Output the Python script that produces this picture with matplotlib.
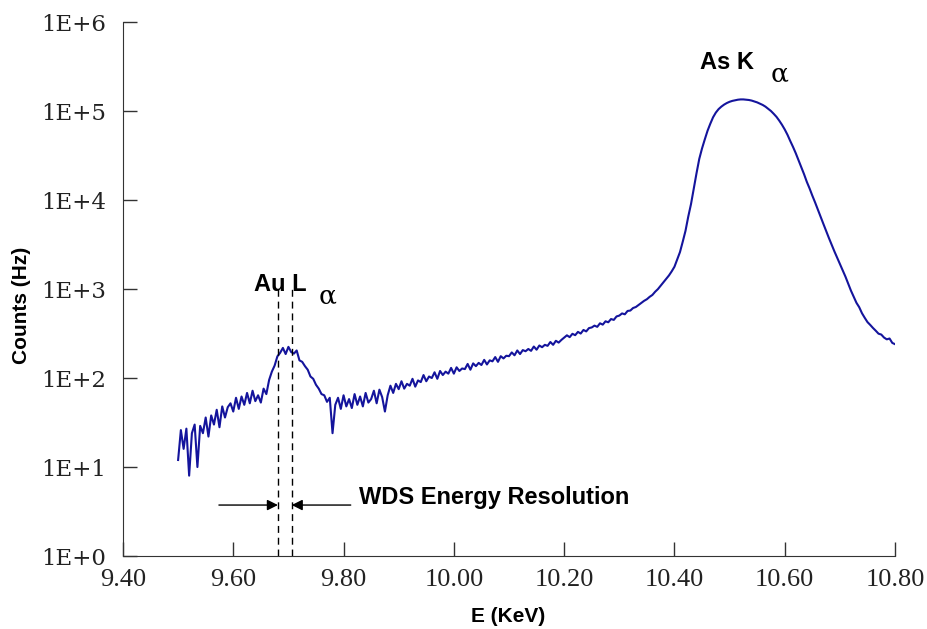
import matplotlib
matplotlib.use('Agg')
import matplotlib.pyplot as plt
from matplotlib.ticker import FixedLocator, FuncFormatter, NullLocator
import numpy as np

# spectrum, one value every 0.005 keV from 9.50 to 10.80
e_start, e_stop = 9.50, 10.80
counts = [
    12, 26, 16, 27, 8, 24, 30, 10, 29, 24,
    36, 22, 38, 30, 44, 28, 48, 36, 47, 52,
    42, 60, 45, 62, 50, 68, 52, 72, 55, 64,
    53, 76, 66, 95, 118, 138, 175, 192, 218, 186,
    224, 196, 188, 204, 158, 152, 136, 124, 104, 98,
    84, 76, 66, 64, 54, 60, 24, 50, 60, 45,
    64, 48, 58, 46, 66, 50, 62, 48, 68, 53,
    58, 72, 52, 74, 61, 42, 64, 82, 68, 86,
    75, 92, 76, 86, 82, 98, 80, 94, 90, 108,
    92, 104, 100, 116, 98, 120, 108, 118, 112, 130,
    112, 132, 120, 128, 126, 144, 124, 146, 136, 148,
    140, 160, 142, 158, 154, 172, 152, 176, 166, 178,
    176, 194, 180, 204, 186, 206, 200, 212, 202, 226,
    208, 232, 222, 236, 230, 254, 236, 262, 250, 268,
    285, 302, 288, 314, 303, 330, 316, 347, 334, 364,
    370, 388, 376, 412, 398, 434, 423, 460, 450, 492,
    503, 532, 520, 567, 573, 612, 628, 662, 698, 737,
    768, 817, 858, 932, 998, 1090, 1190, 1300, 1420, 1580,
    1780, 2150, 2600, 3400, 4500, 6500, 9000, 13500, 20000, 29000,
    38000, 48000, 60000, 72000, 85000, 96000, 105000, 112000, 118000, 123000,
    127000, 130000, 132000, 134000, 135000, 135000, 134000, 133000, 131000, 128000,
    125000, 121000, 117000, 112000, 106000, 100000, 93000, 86000, 78000, 70000,
    62000, 54000, 46000, 39500, 33500, 28000, 23500, 19500, 16000, 13500,
    11200, 9400, 7800, 6500, 5400, 4500, 3750, 3150, 2650, 2250,
    1900, 1620, 1380, 1150, 960, 820, 700, 625, 535, 475,
    425, 395, 365, 340, 315, 308, 285, 272, 278, 248,
    240,
]
energy = np.linspace(e_start, e_stop, len(counts))

x_ticks = [9.40, 9.60, 9.80, 10.00, 10.20, 10.40, 10.60, 10.80]
y_ticks = [1e0, 1e1, 1e2, 1e3, 1e4, 1e5, 1e6]
resolution_edges = [9.681, 9.706]

bold = ['Liberation Sans Narrow', 'Liberation Sans']

fig = plt.figure(figsize=(9.28, 6.29), dpi=100)
ax = fig.add_axes([0.1325, 0.116, 0.832, 0.849])

ax.plot(energy, counts, color='#14149c', lw=1.5)

# resolution markers
for e in resolution_edges:
    ax.plot([e, e], [1, 1000], color='black', lw=1, ls=(0, (5, 3.5)))
arrow = dict(arrowstyle='-|>', color='black', lw=1, mutation_scale=16,
             shrinkA=0, shrinkB=0)
ax.annotate('', xy=(resolution_edges[0], 3.74), xytext=(9.574, 3.74),
            arrowprops=arrow)
ax.annotate('', xy=(resolution_edges[1], 3.74), xytext=(9.813, 3.74),
            arrowprops=arrow)
ax.text(9.8275, 4.6, 'WDS Energy Resolution', family=bold, weight='bold',
        fontsize=17, va='center', ha='left')

ax.text(9.637, 1110, 'Au L', family=bold, weight='bold', fontsize=17,
        va='center', ha='left')
ax.text(9.755, 830, 'α', family='DejaVu Serif', fontsize=19, va='center', ha='left')
ax.text(10.447, 355000, 'As K', family=bold, weight='bold', fontsize=17,
        va='center', ha='left')
ax.text(10.574, 260000, 'α', family='DejaVu Serif', fontsize=19, va='center', ha='left')

ax.set_yscale('log')
ax.set_xlim(9.40, 10.80)
ax.set_ylim(1, 1e6)
ax.xaxis.set_major_locator(FixedLocator(x_ticks))
ax.yaxis.set_major_locator(FixedLocator(y_ticks))
ax.yaxis.set_minor_locator(NullLocator())
ax.xaxis.set_major_formatter(FuncFormatter(lambda v, p: '%.2f' % v))
ax.yaxis.set_major_formatter(FuncFormatter(lambda v, p: '1E+%d' % round(np.log10(v))))

ax.tick_params(direction='in', length=10, width=1, color='#333333')
ax.tick_params(axis='x', pad=9)
ax.tick_params(axis='y', pad=12)
for lab in ax.get_xticklabels():
    lab.set_family('Liberation Serif')
    lab.set_fontsize(19)
    lab.set_color('#222222')
for lab in ax.get_yticklabels():
    lab.set_family('DejaVu Serif')
    lab.set_fontsize(16.5)
    lab.set_color('#222222')

ax.spines['top'].set_visible(False)
ax.spines['right'].set_visible(False)
ax.spines['left'].set_color('#333333')
ax.spines['bottom'].set_color('#333333')

fig.text(22 / 928, 1 - 305 / 629, 'Counts (Hz)', rotation=90, family=bold,
         weight='bold', fontsize=15, ha='center', va='center')
fig.text(508 / 928, 1 - 616 / 629, 'E (KeV)', family=bold, weight='bold',
         fontsize=15, ha='center', va='center')

fig.savefig('out.png', dpi=100)
